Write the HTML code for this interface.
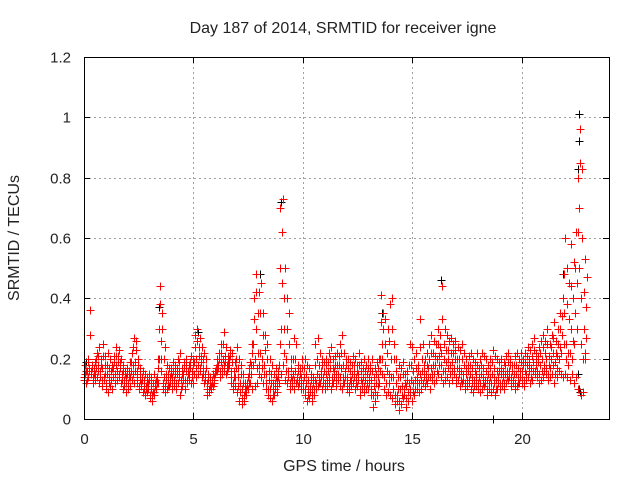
<!DOCTYPE html>
<html><head><meta charset="utf-8"><style>
body{margin:0;background:#fff}
svg text{font-family:"Liberation Sans",sans-serif;fill:#222}
</style></head><body>
<svg id="chart" width="640" height="480" xmlns="http://www.w3.org/2000/svg">
<rect width="640" height="480" fill="#fff"/>
<text x="343" y="33" font-size="16" text-anchor="middle">Day 187 of 2014, SRMTID for receiver igne</text>
<text x="344" y="471" font-size="16" text-anchor="middle">GPS time / hours</text>
<text transform="translate(19,238) rotate(-90)" font-size="16" text-anchor="middle">SRMTID / TECUs</text>
<g id="grid"></g><g id="ticks"></g><g id="marks"></g>
<rect x="84.5" y="57.5" width="525" height="362" fill="none" stroke="#000" stroke-width="1"/>
</svg>
<script>
const xTicks=[0,5,10,15,20];
const yTicks=[0,0.2,0.4,0.6,0.8,1,1.2];
const yTickLabels=["0","0.2","0.4","0.6","0.8","1","1.2"];
const redLo=[.13,.12,.14,.15,.12,.13,.14,.12,.11,.13,.1,.09,.11,.1,.12,.13,.14,.12,.1,.09,.1,.11,.13,.12,.12,.1,.11,.09,.08,.09,.07,.06,.08,.1,.12,.16,.1,.09,.1,.11,.1,.11,.1,.12,.08,.11,.1,.12,.13,.12,.12,.14,.15,.16,.14,.12,.08,.09,.1,.11,.15,.16,.14,.15,.16,.15,.17,.12,.1,.11,.09,.06,.05,.06,.08,.1,.12,.1,.11,.12,.15,.14,.12,.1,.08,.07,.06,.08,.09,.12,.15,.18,.13,.12,.1,.11,.1,.12,.11,.1,.1,.08,.06,.07,.06,.08,.1,.11,.12,.1,.1,.11,.12,.1,.12,.11,.13,.11,.1,.12,.1,.09,.11,.12,.1,.11,.08,.1,.09,.1,.1,.08,.04,.06,.08,.12,.15,.1,.08,.09,.08,.07,.05,.06,.03,.05,.07,.04,.06,.08,.06,.08,.1,.09,.1,.12,.11,.12,.1,.13,.12,.13,.15,.14,.12,.13,.14,.12,.13,.15,.12,.13,.11,.12,.1,.11,.12,.1,.09,.11,.1,.09,.1,.11,.08,.1,.09,.1,.08,.1,.1,.11,.1,.12,.13,.11,.12,.1,.11,.12,.12,.11,.13,.14,.12,.13,.15,.14,.12,.13,.14,.15,.13,.14,.15,.12,.14,.16,.15,.14,.15,.14,.13,.15,.12,.14,.1,.08,.09,.2];
const redQ1=[.14,.13,.16,.15,.14,.15,.16,.14,.13,.14,.12,.12,.13,.14,.15,.16,.15,.13,.11,.12,.12,.14,.15,.16,.14,.11,.12,.1,.1,.1,.08,.08,.09,.12,.2,.2,.12,.11,.11,.12,.12,.13,.12,.14,.1,.13,.13,.13,.15,.14,.15,.17,.18,.17,.15,.13,.1,.1,.11,.12,.16,.17,.16,.17,.18,.16,.18,.14,.12,.14,.11,.09,.07,.08,.1,.12,.15,.18,.2,.17,.18,.17,.15,.12,.1,.1,.08,.1,.11,.18,.3,.22,.16,.14,.12,.13,.13,.13,.12,.12,.12,.1,.08,.09,.08,.1,.12,.12,.14,.12,.12,.13,.14,.12,.14,.13,.15,.14,.12,.14,.12,.11,.13,.14,.12,.13,.1,.12,.11,.12,.12,.1,.08,.09,.11,.16,.2,.14,.12,.12,.14,.1,.08,.08,.06,.08,.08,.07,.09,.1,.09,.1,.12,.12,.13,.14,.13,.14,.14,.15,.15,.16,.18,.18,.16,.16,.17,.15,.16,.17,.14,.15,.13,.13,.12,.13,.13,.12,.11,.13,.12,.12,.12,.12,.1,.12,.12,.12,.1,.12,.12,.12,.12,.14,.14,.12,.13,.12,.12,.14,.14,.13,.15,.16,.14,.16,.16,.16,.15,.16,.16,.17,.15,.17,.18,.15,.17,.2,.22,.25,.2,.18,.22,.2,.25,.3,.5,.25,.2,.22];
const redMid=[.15,.16,.17,.16,.15,.17,.18,.16,.17,.15,.15,.14,.16,.17,.18,.19,.17,.15,.13,.14,.14,.16,.18,.19,.16,.13,.13,.12,.11,.12,.1,.09,.11,.14,.3,.26,.14,.13,.13,.14,.14,.15,.15,.16,.13,.15,.16,.15,.17,.16,.19,.2,.21,.19,.17,.15,.12,.11,.12,.13,.17,.18,.19,.2,.19,.18,.2,.16,.14,.17,.14,.12,.1,.09,.11,.15,.18,.25,.3,.22,.22,.2,.18,.15,.13,.12,.1,.12,.13,.25,.45,.3,.2,.16,.14,.15,.16,.14,.13,.14,.14,.12,.1,.11,.1,.13,.15,.14,.16,.14,.15,.16,.17,.14,.16,.15,.18,.17,.14,.16,.14,.13,.15,.16,.14,.15,.13,.14,.13,.15,.14,.13,.11,.12,.14,.2,.25,.18,.16,.15,.2,.14,.12,.1,.1,.11,.1,.11,.12,.13,.12,.13,.14,.15,.16,.16,.15,.17,.17,.18,.18,.2,.21,.22,.2,.19,.2,.18,.19,.2,.17,.17,.16,.15,.15,.16,.15,.14,.13,.15,.14,.15,.14,.13,.13,.14,.15,.14,.13,.14,.15,.14,.15,.16,.16,.14,.15,.15,.14,.16,.16,.16,.18,.18,.17,.19,.18,.19,.18,.2,.18,.2,.18,.2,.22,.19,.21,.24,.28,.35,.25,.22,.3,.26,.35,.45,.7,.4,.3,.27];
const redQ3=[.18,.19,.28,.17,.17,.2,.21,.18,.21,.18,.18,.17,.17,.19,.21,.21,.19,.16,.15,.15,.16,.19,.24,.23,.18,.15,.14,.13,.12,.13,.12,.12,.12,.17,.38,.3,.2,.15,.15,.15,.16,.16,.17,.19,.15,.17,.18,.16,.19,.18,.24,.26,.24,.21,.2,.17,.13,.12,.13,.14,.18,.2,.22,.25,.21,.19,.21,.19,.16,.2,.17,.15,.12,.1,.12,.17,.22,.33,.42,.35,.35,.28,.23,.2,.16,.15,.12,.14,.14,.5,.62,.4,.3,.25,.17,.2,.2,.16,.15,.17,.17,.15,.13,.13,.12,.18,.2,.18,.18,.16,.18,.19,.2,.17,.18,.18,.21,.22,.18,.18,.17,.16,.18,.18,.16,.18,.16,.17,.16,.17,.16,.16,.14,.15,.17,.32,.3,.25,.22,.26,.3,.2,.16,.14,.14,.15,.12,.13,.18,.18,.16,.17,.16,.24,.2,.18,.18,.2,.22,.22,.21,.25,.24,.33,.25,.23,.23,.22,.22,.23,.2,.2,.2,.18,.17,.18,.18,.17,.16,.18,.17,.18,.17,.16,.15,.17,.19,.17,.16,.16,.17,.16,.18,.19,.18,.16,.18,.18,.17,.19,.18,.19,.21,.2,.21,.23,.2,.21,.22,.24,.22,.25,.21,.24,.27,.22,.25,.3,.34,.48,.38,.33,.44,.4,.5,.62,.85,.6,.42,.37];
const redHi=[.16,.2,.36,.18,.19,.22,.24,.2,.25,.21,.22,.2,.18,.21,.24,.23,.2,.18,.16,.17,.19,.22,.27,.26,.2,.17,.16,.15,.14,.15,.14,.15,.13,.2,.44,.35,.24,.18,.17,.17,.19,.18,.2,.22,.17,.19,.2,.18,.21,.2,.28,.3,.27,.24,.22,.2,.15,.14,.15,.16,.2,.22,.25,.29,.24,.21,.23,.22,.19,.24,.2,.18,.15,.12,.14,.19,.25,.4,.48,.42,.45,.35,.28,.25,.2,.18,.15,.17,.16,.7,.73,.5,.4,.35,.2,.27,.25,.18,.17,.2,.2,.18,.17,.15,.14,.25,.27,.22,.2,.19,.2,.22,.24,.2,.21,.22,.25,.28,.22,.2,.2,.19,.21,.2,.18,.22,.19,.2,.18,.2,.18,.2,.17,.19,.2,.41,.35,.33,.3,.38,.4,.25,.2,.18,.17,.19,.15,.16,.25,.24,.2,.22,.18,.33,.25,.2,.22,.25,.28,.26,.25,.3,.28,.44,.3,.28,.26,.27,.25,.26,.24,.23,.25,.22,.2,.21,.22,.2,.19,.22,.2,.22,.21,.2,.18,.2,.23,.21,.2,.19,.2,.19,.21,.22,.2,.18,.21,.22,.2,.22,.2,.22,.24,.23,.25,.27,.22,.24,.26,.28,.26,.3,.25,.28,.32,.26,.3,.35,.4,.6,.5,.45,.58,.52,.62,.8,.96,.83,.53,.47];
const blackT=[22.62,22.64,22.58,22.66,22.6,22.64,18.7,16.3,9.0,8.05,3.42,13.6,21.9,22.45,0.1,5.2];
const blackV=[1.01,0.92,0.83,0.09,0.15,0.1,0.0,0.46,0.72,0.48,0.37,0.35,0.48,0.5,0.19,0.29];
const NS='http://www.w3.org/2000/svg';
const X0=84,X1=609,Y0=419,Y1=57,XMAX=24,YMAX=1.2;
function xs(t){return X0+(X1-X0)*t/XMAX;}
function ys(v){return Y0-(Y0-Y1)*v/YMAX;}
const grid=document.getElementById('grid'),ticks=document.getElementById('ticks'),marks=document.getElementById('marks');
function line(g,x1,y1,x2,y2,st,dash){const l=document.createElementNS(NS,'line');l.setAttribute('x1',x1);l.setAttribute('y1',y1);l.setAttribute('x2',x2);l.setAttribute('y2',y2);l.setAttribute('stroke',st);if(dash)l.setAttribute('stroke-dasharray',dash);g.appendChild(l);return l;}
xTicks.forEach(t=>{const x=Math.round(xs(t))+.5;
 if(t>0){const gl=line(grid,x,Y1,x,Y0,'#a0a0a0','2,3');
 
 }
 line(ticks,x,Y0,x,Y0-6,'#000');line(ticks,x,Y1,x,Y1+6,'#000');
 const tx=document.createElementNS(NS,'text');tx.setAttribute('x',x);tx.setAttribute('y',444);tx.setAttribute('font-size','15');tx.setAttribute('text-anchor','middle');tx.textContent=t;
 
 
 ticks.appendChild(tx);});
yTicks.forEach((v,i)=>{const y=Math.round(ys(v))+.5;
 if(v>0&&v<1.2){const gl=line(grid,X0,y,X1,y,'#a0a0a0','2,3');
 
 }
 line(ticks,X0,y,X0+6,y,'#000');line(ticks,X1,y,X1-6,y,'#000');
 const tx=document.createElementNS(NS,'text');tx.setAttribute('x',71);tx.setAttribute('y',y+5);tx.setAttribute('font-size','15');tx.setAttribute('text-anchor','end');tx.textContent=yTickLabels[i];
 
 
 ticks.appendChild(tx);});
function plus(t,v,c,name){const x=Math.round(xs(t))+.5,y=Math.round(ys(v))+.5;const p=document.createElementNS(NS,'path');
 p.setAttribute('d','M'+(x-4)+' '+y+'H'+(x+4)+'M'+x+' '+(y-4)+'V'+(y+4));p.setAttribute('stroke',c);p.setAttribute('stroke-width','1');p.setAttribute('fill','none');
 
 
 marks.appendChild(p);}
blackT.forEach((t,i)=>plus(t,blackV[i],'#000','black-point'));
[redLo,redQ1,redMid,redQ3,redHi].forEach((arr,k)=>arr.forEach((v,i)=>{plus(i*0.1+k*0.02,v,'#ff0000','red-point');}));
</script>
</body></html>
